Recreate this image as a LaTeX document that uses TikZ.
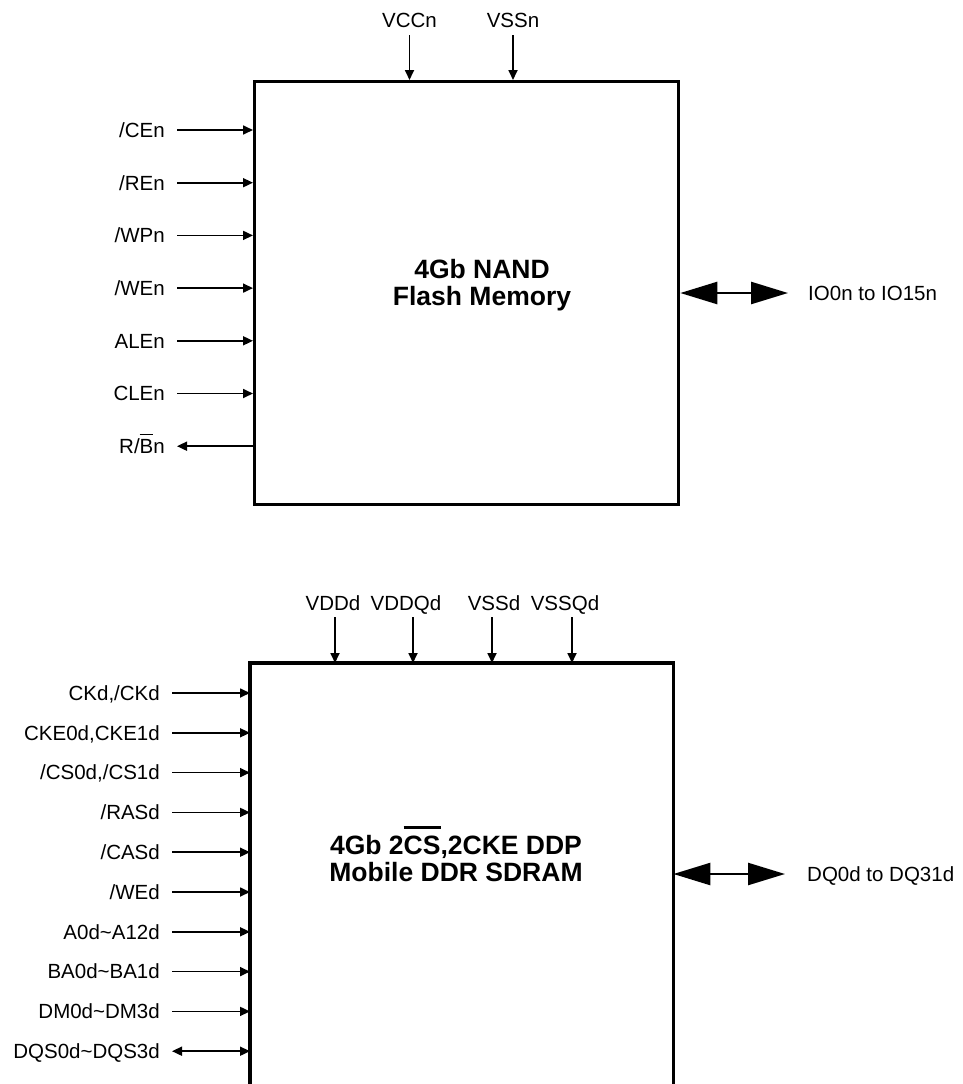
\documentclass[tikz,border=0pt]{standalone}
\usepackage{fontspec}
\setmainfont{Liberation Sans}
\usetikzlibrary{arrows.meta}
\newsavebox{\obarbox}
\newcommand{\obar}[3]{\sbox{\obarbox}{#3}\makebox[0pt][l]{\smash{\rule[\dimexpr\ht\obarbox+#1\relax]{\wd\obarbox}{#2}}}\usebox{\obarbox}}
\begin{document}
\begin{tikzpicture}[x=1pt,y=-1pt,
  lbl/.style={font=\fontsize{20.5}{24}\selectfont, inner sep=0pt, text height=14.7pt, text depth=0pt},
  ttl/.style={font=\fontsize{26.5}{27}\selectfont\bfseries, align=center, inner sep=0pt},
  sig/.style={line width=1.7pt, -{Triangle[length=10pt,width=9pt]}},
  bsig/.style={line width=1.7pt, {Triangle[length=10pt,width=9pt]}-{Triangle[length=10pt,width=9pt]}},
  bus/.style={line width=2.5pt, {Triangle[length=37pt,width=22pt]}-{Triangle[length=37pt,width=22pt]}},
  blk/.style={line width=3.3pt}]
\useasboundingbox (0,0) rectangle (962,1084);

% ---------- NAND block ----------
\node[draw, blk, minimum width=424pt, minimum height=423pt, inner sep=0pt, anchor=north west] (nand) at (253,80) {};
\node[ttl] (t1) at (482,285) {4Gb NAND\\Flash Memory};

\node[lbl, anchor=south] (vcc) at (409.5,28) {VCCn};
\node[lbl, anchor=south] (vss) at (513,28) {VSSn};
\draw[sig] ([yshift=-7pt]vcc.south) -- (vcc.south |- nand.north);
\draw[sig] ([yshift=-7pt]vss.south) -- (vss.south |- nand.north);

\node[lbl, anchor=east] (ce) at (165,130) {/CEn};
\node[lbl, anchor=east] (re) at (165,182.7) {/REn};
\node[lbl, anchor=east] (wp) at (165,235.4) {/WPn};
\node[lbl, anchor=east] (we) at (165,288.1) {/WEn};
\node[lbl, anchor=east] (ale) at (165,340.8) {ALEn};
\node[lbl, anchor=east] (cle) at (165,393.5) {CLEn};
\node[lbl, anchor=east] (rb) at (165,446.2) {R/\obar{4pt}{1.6pt}{B}n};
\foreach \s in {ce,re,wp,we,ale,cle}
  \draw[sig] ([xshift=12pt]\s.east) -- (\s.east -| nand.west);
\draw[sig] (rb.east -| nand.west) -- ([xshift=12pt]rb.east);

\node[lbl, anchor=west] (io) at (808,293) {IO0n to IO15n};
\draw[bus] (io.west -| nand.east) -- ([xshift=-20pt]io.west);

% ---------- DDR block ----------
\node[minimum width=423pt, minimum height=421pt, inner sep=0pt, anchor=north west] (ddr) at (250,663) {};
\draw[blk] (ddr.south west) -- (ddr.north west) -- (ddr.north east) -- (ddr.south east);
\node[ttl] (t2) at (456,859) {4Gb 2\obar{7pt}{3pt}{CS},2CKE DDP\\Mobile DDR SDRAM};

\node[lbl, anchor=south] (vdd) at (333,611) {VDDd};
\node[lbl, anchor=south] (vddq) at (406,611) {VDDQd};
\node[lbl, anchor=south] (vssd) at (494,611) {VSSd};
\node[lbl, anchor=south] (vssq) at (565,611) {VSSQd};
\draw[sig] ([shift={(2pt,-6pt)}]vdd.south) coordinate (pa) -- (pa |- ddr.north);
\draw[sig] ([shift={(7pt,-6pt)}]vddq.south) coordinate (pb) -- (pb |- ddr.north);
\draw[sig] ([shift={(-2pt,-6pt)}]vssd.south) coordinate (pc) -- (pc |- ddr.north);
\draw[sig] ([shift={(7pt,-6pt)}]vssq.south) coordinate (pd) -- (pd |- ddr.north);

\node[lbl, anchor=east] (ck) at (160,693) {CKd,/CKd};
\node[lbl, anchor=east] (cke) at (160,732.8) {CKE0d,CKE1d};
\node[lbl, anchor=east] (cs) at (160,772.6) {/CS0d,/CS1d};
\node[lbl, anchor=east] (ras) at (160,812.4) {/RASd};
\node[lbl, anchor=east] (cas) at (160,852.2) {/CASd};
\node[lbl, anchor=east] (wed) at (160,892) {/WEd};
\node[lbl, anchor=east] (addr) at (160,931.8) {A0d\char`~A12d};
\node[lbl, anchor=east] (ba) at (160,971.6) {BA0d\char`~BA1d};
\node[lbl, anchor=east] (dm) at (160,1011.4) {DM0d\char`~DM3d};
\node[lbl, anchor=east] (dqs) at (160,1051.2) {DQS0d\char`~DQS3d};
\foreach \s in {ck,cke,cs,ras,cas,wed,addr,ba,dm}
  \draw[sig] ([xshift=12pt]\s.east) -- (\s.east -| ddr.west);
\draw[bsig] ([xshift=12pt]dqs.east) -- (dqs.east -| ddr.west);

\node[lbl, anchor=west] (dq) at (807,874) {DQ0d to DQ31d};
\draw[bus] (dq.west -| ddr.east) -- ([xshift=-22pt]dq.west);
\end{tikzpicture}
\end{document}
